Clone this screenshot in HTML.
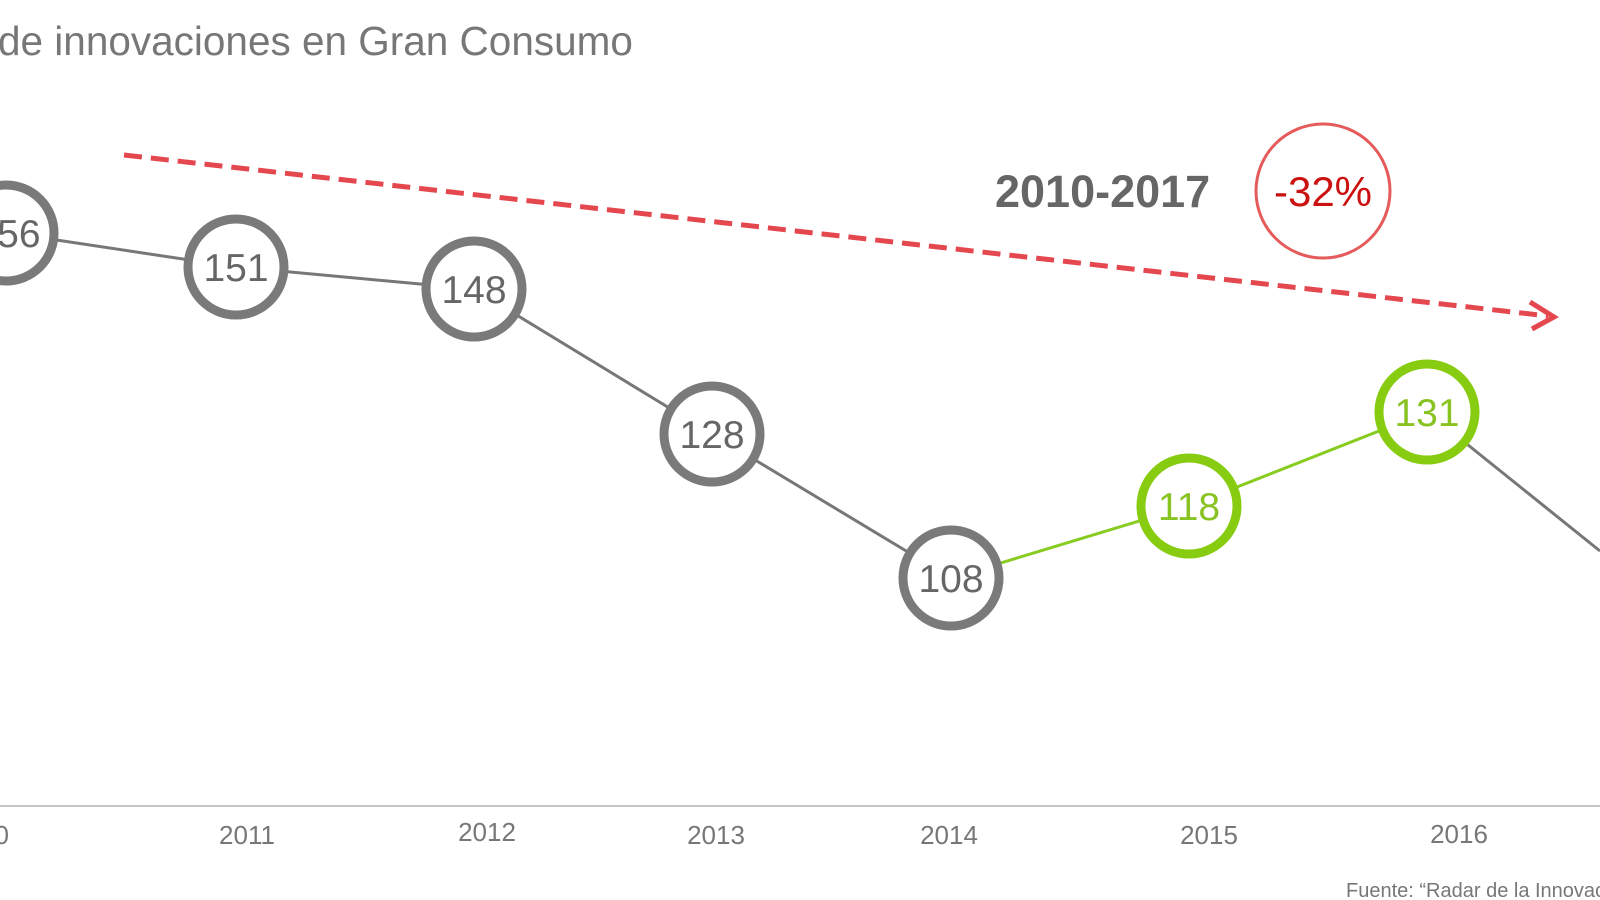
<!DOCTYPE html>
<html><head><meta charset="utf-8"><style>
html,body{margin:0;padding:0;background:#fff;width:1600px;height:900px;overflow:hidden}
svg{display:block}
text{font-family:"Liberation Sans",Arial,sans-serif}
</style></head><body>
<svg width="1600" height="900" viewBox="0 0 1600 900">
<text x="-2" y="55" font-size="40.5" fill="#777">de innovaciones en Gran Consumo</text>
<line x1="124" y1="155" x2="1548" y2="316" stroke="#e5474f" stroke-width="5" stroke-dasharray="18,9"/>
<polyline points="1530,302 1554,317 1532,329" fill="none" stroke="#e5474f" stroke-width="5"/>
<text x="995" y="207" font-size="45" font-weight="bold" fill="#666">2010-2017</text>
<circle cx="1323" cy="191" r="67" fill="none" stroke="#e55a5a" stroke-width="3"/>
<text x="1323" y="206" font-size="42" fill="#cc1111" text-anchor="middle">-32%</text>
<polyline points="10,233 236,267 474,289 712,434 951,578" fill="none" stroke="#777" stroke-width="3"/>
<polyline points="951,578 1189,506 1427,412" fill="none" stroke="#88cc22" stroke-width="3"/>
<line x1="1427" y1="412" x2="1600" y2="551" stroke="#777" stroke-width="3"/>
<g fill="#fff" stroke="#7a7a7a" stroke-width="9">
<circle cx="6" cy="233" r="48"/><circle cx="236" cy="267" r="48"/><circle cx="474" cy="289" r="48"/><circle cx="712" cy="434" r="48"/><circle cx="951" cy="578" r="48"/>
</g>
<g fill="#fff" stroke="#88cc11" stroke-width="9">
<circle cx="1189" cy="506" r="48"/><circle cx="1427" cy="412" r="48"/>
</g>
<g font-size="39" text-anchor="middle" fill="#666">
<text x="8" y="247">156</text><text x="236" y="281">151</text><text x="474" y="303">148</text><text x="712" y="448">128</text><text x="951" y="592">108</text>
</g>
<g font-size="39" text-anchor="middle" fill="#88c322">
<text x="1189" y="520">118</text><text x="1427" y="426">131</text>
</g>
<line x1="0" y1="806" x2="1600" y2="806" stroke="#c4c4c4" stroke-width="2"/>
<g font-size="26" fill="#777" text-anchor="middle">
<text x="-20" y="844">2010</text><text x="247" y="844">2011</text><text x="487" y="841">2012</text><text x="716" y="844">2013</text><text x="949" y="844">2014</text><text x="1209" y="844">2015</text><text x="1459" y="843">2016</text>
</g>
<text x="1346" y="897" font-size="20" fill="#777">Fuente: “Radar de la Innovación”</text>
</svg>
</body></html>
